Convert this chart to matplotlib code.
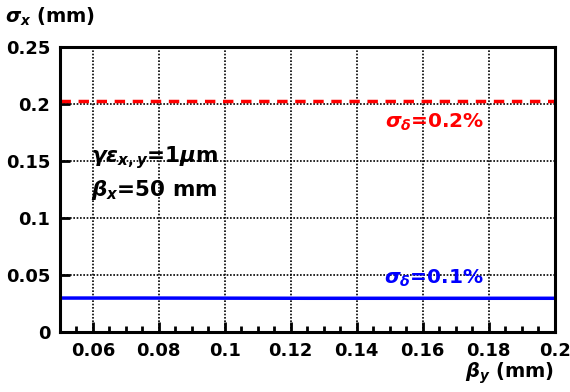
import numpy as np
import matplotlib.pyplot as plt
from matplotlib.ticker import MultipleLocator

plt.rcParams['font.family'] = ['DejaVu Sans']
plt.rcParams['font.weight'] = 'bold'
plt.rcParams['mathtext.fontset'] = 'custom'
plt.rcParams['mathtext.rm'] = 'DejaVu Sans:bold'
plt.rcParams['mathtext.it'] = 'DejaVu Sans:bold:italic'
plt.rcParams['mathtext.bf'] = 'DejaVu Sans:bold'

# beta_y (mm) and sigma_x (mm) for two energy spreads
beta_y = [0.05, 0.075, 0.1, 0.125, 0.15, 0.175, 0.2]
sigx_02 = [0.203, 0.203, 0.203, 0.203, 0.203, 0.203, 0.203]
sigx_01 = [0.0298, 0.0298, 0.0297, 0.0296, 0.0296, 0.0296, 0.0296]

x_ticks = [0.06, 0.08, 0.1, 0.12, 0.14, 0.16, 0.18, 0.2]
x_ticklabels = ['0.06', '0.08', '0.1', '0.12', '0.14', '0.16', '0.18', '0.2']
y_ticks = [0, 0.05, 0.1, 0.15, 0.2, 0.25]
y_ticklabels = ['0', '0.05', '0.1', '0.15', '0.2', '0.25']

fs = 13

fig = plt.figure(figsize=(5.7, 3.92), dpi=100)
ax = fig.add_axes([0.105, 0.153, 0.868, 0.727])

ax.plot(beta_y, sigx_02, color='#ff0000', linestyle=(0, (3, 2.2)), linewidth=2.5)
ax.plot(beta_y, sigx_01, color='#0000ff', linewidth=2.5)

ax.set_xlim(0.05, 0.2)
ax.set_ylim(0, 0.25)
ax.set_xticks(x_ticks)
ax.set_xticklabels(x_ticklabels)
ax.set_yticks(y_ticks)
ax.set_yticklabels(y_ticklabels)
ax.xaxis.set_minor_locator(MultipleLocator(0.005))

ax.grid(True, which='major', color='black', linestyle=(0, (1, 1)), linewidth=1.2)
ax.tick_params(axis='both', which='major', direction='in', length=7, width=2,
               labelsize=fs, pad=7)
ax.tick_params(axis='x', which='minor', direction='in', length=4, width=2)
ax.tick_params(top=False, right=False)
for s in ax.spines.values():
    s.set_linewidth(2.2)

fig.text(0.008, 0.958, r'$\sigma_x$ (mm)', fontsize=14, va='center', ha='left')
fig.text(0.973, 0.048, r'$\beta_y$ (mm)', fontsize=14, va='center', ha='right')

ax.text(0.0595, 0.153, r'$\gamma\varepsilon_{x,y}$=1$\mu$m', fontsize=15.5, va='center')
ax.text(0.0595, 0.1246, r'$\beta_x$=50 mm', fontsize=15.5, va='center')
ax.text(0.1786, 0.184, r'$\sigma_\delta$=0.2%', fontsize=14.5, color='#ff0000', va='center', ha='right')
ax.text(0.1786, 0.047, r'$\sigma_\delta$=0.1%', fontsize=14.5, color='#0000ff', va='center', ha='right')

fig.savefig('out.png', dpi=100)
